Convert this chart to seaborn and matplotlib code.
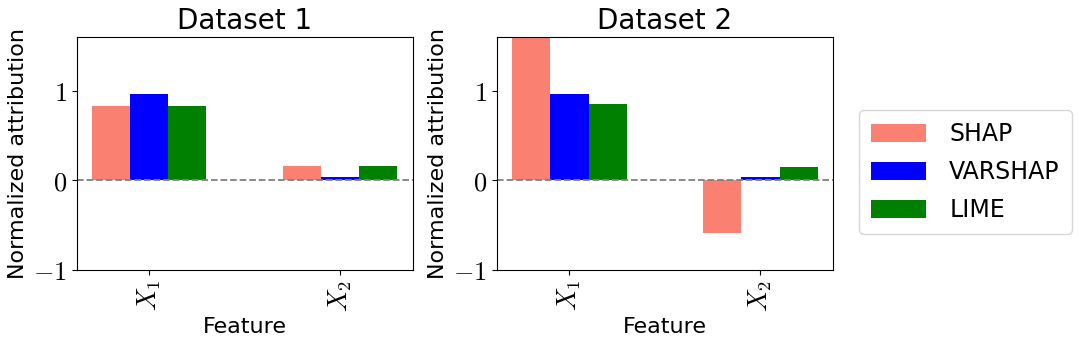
import pandas as pd
import numpy as np
import seaborn as sns
import matplotlib.pyplot as plt

# Data
features = ['$X_1$', '$X_2$']
methods = ['SHAP', 'VARSHAP', 'LIME']
colors = ['salmon', 'blue', 'green']

# values per method: [X1, X2]
d1_shap = [0.83, 0.16]
d1_varshap = [0.96, 0.037]
d1_lime = [0.83, 0.16]

d2_shap = [1.59, -0.59]
d2_varshap = [0.96, 0.035]
d2_lime = [0.85, 0.15]

datasets = {
    'Dataset 1': [d1_shap, d1_varshap, d1_lime],
    'Dataset 2': [d2_shap, d2_varshap, d2_lime],
}

plt.rcParams['mathtext.fontset'] = 'cm'
plt.rcParams['font.family'] = ['DejaVu Sans']

fig, axes = plt.subplots(1, 2, figsize=(10.79, 3.44), dpi=100)
fig.subplots_adjust(left=0.071, right=0.772, top=0.892, bottom=0.215, wspace=0.25)

handles = None
for ax, (name, vals) in zip(axes, datasets.items()):
    rows = []
    for m, v in zip(methods, vals):
        for f, val in zip(features, v):
            rows.append({'Feature': f, 'Method': m, 'Value': val})
    df = pd.DataFrame(rows)
    sns.barplot(data=df, x='Feature', y='Value', hue='Method', hue_order=methods,
                palette=colors, saturation=1, width=0.6, ax=ax)
    if handles is None:
        handles, labels = ax.get_legend_handles_labels()
    ax.get_legend().remove()
    ax.axhline(0, color='gray', linestyle='--', linewidth=1.3)
    ax.set_xlim(-0.38, 1.38)
    ax.set_ylim(-1, 1.6)
    ax.set_yticks([-1, 0, 1])
    ax.set_yticklabels(['$-1$', '$0$', '$1$'], fontsize=19)
    ax.set_xticks([0, 1])
    ax.set_xticklabels(features, rotation=90, fontsize=19)
    ax.set_title(name, fontsize=20)
    ax.set_xlabel('Feature', fontsize=16)
    ax.set_ylabel('Normalized attribution', fontsize=16)

fig.legend(handles, labels, loc='center left', bbox_to_anchor=(0.79, 0.5),
           fontsize=17, handlelength=2.3, handleheight=0.8, labelspacing=0.6,
           borderpad=0.5, handletextpad=1.0, borderaxespad=0.3)

plt.savefig('out.png', dpi=100)
